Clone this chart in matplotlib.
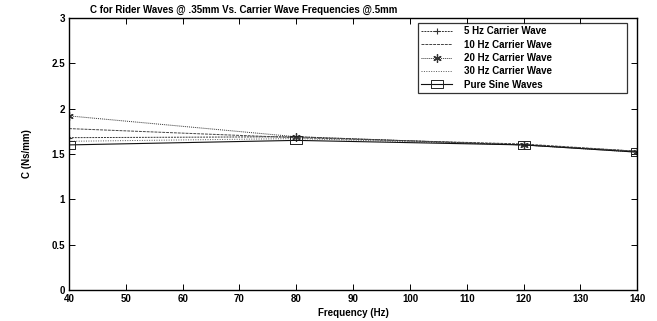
import numpy as np
import matplotlib
matplotlib.use("Agg")
import matplotlib.pyplot as plt

plt.rcParams['font.family'] = ['Liberation Sans', 'DejaVu Sans']

# frequences des ondes "rider" (Hz)
freq = [40, 80, 120, 140]

# coefficient C (Ns/mm) pour chaque onde porteuse
c_5hz = [1.68, 1.69, 1.60, 1.53]
c_10hz = [1.78, 1.68, 1.61, 1.53]
c_20hz = [1.92, 1.69, 1.60, 1.52]
c_30hz = [1.64, 1.67, 1.60, 1.53]
c_pure = [1.60, 1.65, 1.60, 1.52]

labels = ['5 Hz Carrier Wave', '10 Hz Carrier Wave', '20 Hz Carrier Wave',
          '30 Hz Carrier Wave', 'Pure Sine Waves']

# rectangle ouvert, plus large que haut
rect = [(-1.7, -1), (1.7, -1), (1.7, 1), (-1.7, 1), (-1.7, -1)]

fig = plt.figure(figsize=(6.57, 3.21), dpi=100)
ax = fig.add_axes([0.105, 0.0966, 0.865, 0.8474])

ax.plot(freq, c_5hz, color='#333333', lw=0.7, ls=(0, (2, 1)), marker='+', ms=5, mew=0.8, label=labels[0])
ax.plot(freq, c_10hz, color='#444444', lw=0.7, ls=(0, (3, 1)), label=labels[1])
ax.plot(freq, c_20hz, color='#333333', lw=0.7, ls=(0, (1, 1)), marker=(6, 2, 0), ms=6, mew=0.9, label=labels[2])
ax.plot(freq, c_30hz, color='#555555', lw=0.7, ls=(0, (1, 1.5)), label=labels[3])
ax.plot(freq, c_pure, color='#111111', lw=0.8, ls='-', marker=rect, ms=9, mfc='none', mec='#222222', mew=0.7, label=labels[4])

ax.set_xlim(40, 140)
ax.set_ylim(0, 3)
ax.set_xticks(np.arange(40, 141, 10))
ax.set_yticks([0, 0.5, 1, 1.5, 2, 2.5, 3])
ax.set_yticklabels(['0', '0.5', '1', '1.5', '2', '2.5', '3'])
ax.tick_params(direction='in', top=True, right=True, length=4, width=0.7,
               labelsize=7, pad=3)
for lab in ax.get_xticklabels() + ax.get_yticklabels():
    lab.set_fontweight('bold')
for sp in ax.spines.values():
    sp.set_linewidth(1.0)

ax.set_xlabel('Frequency (Hz)', fontsize=7, fontweight='bold', labelpad=3)
ax.set_ylabel('C (Ns/mm)', fontsize=7, fontweight='bold', labelpad=14)

fig.text(90 / 657, 1 - 10 / 321, 'C for Rider Waves @ .35mm Vs. Carrier Wave Frequencies @.5mm',
         fontsize=7, fontweight='bold', ha='left', va='center')

leg = ax.legend(loc='upper left', bbox_to_anchor=(0.614, 0.732, 0.368, 0.25), mode='expand',
                prop={'weight': 'bold', 'size': 7}, frameon=True, fancybox=False,
                edgecolor='black', borderpad=0.35, labelspacing=0.35, handlelength=3.2,
                handletextpad=1.2, borderaxespad=0)
leg.get_frame().set_linewidth(0.9)

fig.savefig('out.png', dpi=100)
